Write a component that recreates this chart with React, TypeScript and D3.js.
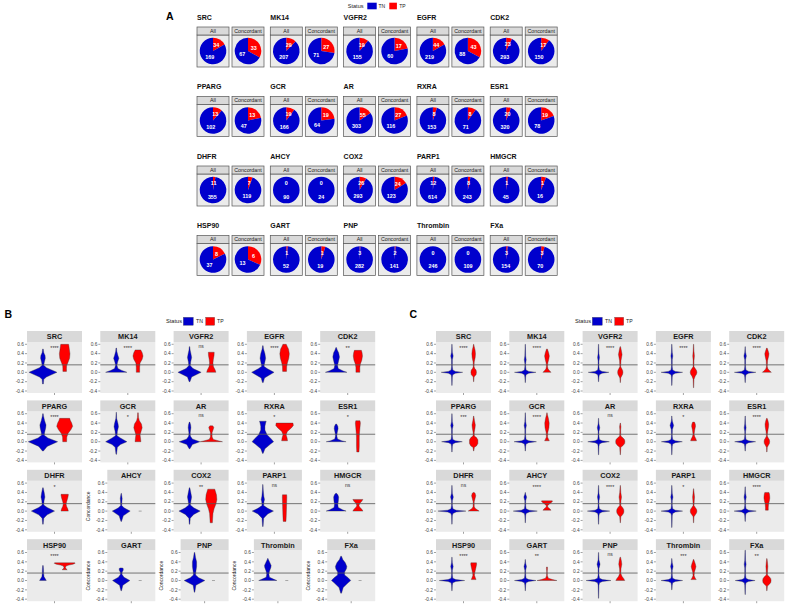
import React from "react";
import * as d3 from "d3";

// ---------- DATA ----------
const targets = ["SRC","MK14","VGFR2","EGFR","CDK2","PPARG","GCR","AR","RXRA","ESR1","DHFR","AHCY","COX2","PARP1","HMGCR","HSP90","GART","PNP","Thrombin","FXa"];
const allTP = [34,29,19,44,23,13,19,55,8,20,11,0,26,12,1,8,1,3,0,3];
const allTN = [169,207,155,219,293,102,166,303,153,320,355,90,293,614,45,37,52,282,246,154];
const concTP = [33,27,17,43,17,13,19,27,8,19,7,0,24,8,1,6,1,2,0,3];
const concTN = [67,71,60,88,150,47,64,116,71,78,119,24,123,243,16,13,19,141,109,70];

const sigB = ["****","****","ns","****","**","****","*","ns","*","*","*","","**","ns","ns","****","","","",""];
const sigC = ["****","****","****","****","****","***","****","ns","*","****","ns","****","****","*","****","****","**","ns","***","**"];

const yTicks = [0.6,0.4,0.2,0.0,-0.2,-0.4];
const refLine = 0.16;
const statusLevels = ["TN","TP"];

// violin knots: [concordance value, relative density width]
const violinB_TN: number[][][] = [
  [[-0.25,0.03],[-0.15,0.06],[-0.1,0.25],[0,1.0],[0.1,0.25],[0.15,0.06],[0.22,0.1],[0.3,0.17],[0.36,0.15],[0.42,0.06],[0.5,0.02]],
  [[0,0.76],[0.04,0.4],[0.08,0.12],[0.15,0.05],[0.22,0.1],[0.3,0.19],[0.36,0.12],[0.45,0.04],[0.52,0.02]],
  [[-0.2,0.03],[-0.1,0.15],[0,0.83],[0.08,0.25],[0.14,0.06],[0.22,0.08],[0.32,0.15],[0.4,0.1],[0.48,0.04],[0.55,0.02]],
  [[-0.22,0.03],[-0.12,0.12],[0,0.8],[0.08,0.3],[0.13,0.08],[0.2,0.13],[0.3,0.2],[0.4,0.15],[0.5,0.05],[0.57,0.02]],
  [[0,0.77],[0.03,0.5],[0.08,0.15],[0.15,0.1],[0.25,0.18],[0.33,0.24],[0.42,0.18],[0.48,0.08],[0.53,0.02]],
  [[-0.2,0.03],[-0.1,0.3],[0,1.05],[0.08,0.35],[0.14,0.1],[0.2,0.12],[0.3,0.2],[0.36,0.22],[0.45,0.12],[0.55,0.04],[0.6,0.02]],
  [[-0.27,0.02],[-0.12,0.08],[-0.06,0.3],[0,0.76],[0.08,0.3],[0.13,0.06],[0.22,0.08],[0.32,0.16],[0.38,0.13],[0.5,0.03],[0.63,0.01]],
  [[-0.15,0.03],[-0.06,0.2],[0,0.74],[0.06,0.2],[0.12,0.06],[0.2,0.05],[0.3,0.1],[0.36,0.08],[0.42,0.02]],
  [[-0.25,0.02],[-0.15,0.15],[-0.05,0.55],[0,0.77],[0.06,0.6],[0.15,0.3],[0.25,0.15],[0.33,0.15],[0.4,0.2],[0.44,0.24]],
  [[0,0.71],[0.02,0.4],[0.06,0.1],[0.12,0.05],[0.2,0.08],[0.28,0.14],[0.33,0.12],[0.38,0.03]],
  [[-0.28,0.02],[-0.15,0.06],[-0.08,0.3],[0,0.83],[0.08,0.3],[0.13,0.06],[0.22,0.08],[0.3,0.14],[0.38,0.1],[0.5,0.02]],
  [[-0.22,0.02],[-0.1,0.15],[0,0.64],[0.07,0.2],[0.12,0.04],[0.2,0.05],[0.27,0.07],[0.33,0.04],[0.38,0.01]],
  [[-0.28,0.02],[-0.15,0.05],[-0.07,0.3],[0,0.76],[0.07,0.3],[0.13,0.06],[0.22,0.1],[0.3,0.15],[0.38,0.1],[0.5,0.02]],
  [[-0.33,0.02],[-0.15,0.06],[-0.06,0.35],[0,0.76],[0.06,0.35],[0.12,0.06],[0.2,0.08],[0.25,0.12],[0.32,0.07],[0.45,0.03],[0.57,0.01]],
  [[0,0.71],[0.03,0.45],[0.08,0.15],[0.14,0.12],[0.22,0.16],[0.3,0.18],[0.35,0.12],[0.38,0.03]],
  [[0,0.24],[0.03,0.18],[0.08,0.08],[0.15,0.05],[0.25,0.04],[0.32,0.02]],
  [[-0.22,0.02],[-0.1,0.12],[0,0.62],[0.07,0.2],[0.13,0.06],[0.18,0.07],[0.22,0.14],[0.25,0.15],[0.27,0.1]],
  [[-0.25,0.02],[-0.1,0.1],[0,0.74],[0.06,0.3],[0.12,0.08],[0.2,0.1],[0.3,0.15],[0.4,0.15],[0.5,0.07],[0.6,0.02]],
  [[0,0.65],[0.03,0.4],[0.07,0.12],[0.13,0.08],[0.2,0.12],[0.28,0.22],[0.32,0.24],[0.38,0.15],[0.45,0.04],[0.47,0.02]],
  [[-0.27,0.03],[-0.15,0.15],[-0.05,0.5],[0,0.69],[0.06,0.5],[0.12,0.25],[0.18,0.25],[0.25,0.38],[0.3,0.41],[0.38,0.3],[0.45,0.12],[0.52,0.03]],
];

const violinB_TP: (number[][] | null)[] = [
  [[0.02,0.13],[0.08,0.13],[0.14,0.14],[0.2,0.22],[0.3,0.35],[0.4,0.38],[0.5,0.33],[0.57,0.3],[0.6,0.28]],
  [[0,0.12],[0.1,0.12],[0.2,0.15],[0.28,0.3],[0.35,0.36],[0.42,0.3],[0.48,0.2]],
  [[0,0.33],[0.05,0.28],[0.12,0.16],[0.2,0.12],[0.28,0.15],[0.36,0.2],[0.43,0.21]],
  [[0.02,0.14],[0.12,0.15],[0.2,0.2],[0.3,0.3],[0.4,0.34],[0.5,0.28],[0.56,0.18],[0.6,0.12]],
  [[0,0.14],[0.1,0.14],[0.18,0.18],[0.26,0.28],[0.35,0.33],[0.42,0.3],[0.47,0.25]],
  [[0,0.14],[0.1,0.15],[0.18,0.25],[0.26,0.45],[0.33,0.57],[0.4,0.5],[0.46,0.4],[0.5,0.36]],
  [[0,0.21],[0.08,0.18],[0.15,0.15],[0.22,0.22],[0.3,0.3],[0.38,0.25],[0.45,0.1],[0.52,0.04],[0.62,0.02]],
  [[0,0.8],[0.02,0.5],[0.05,0.15],[0.1,0.06],[0.2,0.06],[0.27,0.15],[0.31,0.18],[0.34,0.1]],
  [[0.02,0.21],[0.08,0.18],[0.15,0.11],[0.22,0.2],[0.3,0.5],[0.35,0.63],[0.4,0.6]],
  [[-0.22,0.08],[-0.1,0.1],[0,0.1],[0.1,0.1],[0.2,0.12],[0.3,0.15],[0.4,0.18],[0.45,0.15]],
  [[0,0.26],[0.05,0.22],[0.1,0.14],[0.15,0.1],[0.2,0.14],[0.28,0.22],[0.34,0.26],[0.36,0.26]],
  null,
  [[-0.25,0.08],[-0.15,0.1],[-0.05,0.12],[0.05,0.2],[0.15,0.33],[0.25,0.4],[0.35,0.37],[0.42,0.3],[0.47,0.25]],
  [[-0.22,0.1],[-0.1,0.12],[0,0.13],[0.1,0.14],[0.2,0.15],[0.3,0.16],[0.35,0.15]],
  [[0,0.36],[0.04,0.28],[0.09,0.12],[0.12,0.08],[0.16,0.12],[0.21,0.28],[0.25,0.36]],
  [[0.23,0.18],[0.25,0.1],[0.28,0.05],[0.31,0.1],[0.33,0.3],[0.35,0.6],[0.37,0.75],[0.38,0.72]],
  null, null, null, null,
];

const violinC_TN: number[][][] = [
  [[-0.28,0.01],[-0.1,0.03],[-0.05,0.06],[-0.02,0.25],[0,0.77],[0.02,0.25],[0.05,0.06],[0.12,0.03],[0.27,0.03],[0.35,0.09],[0.43,0.03],[0.55,0.015],[0.6,0.01]],
  [[-0.22,0.01],[-0.1,0.03],[-0.05,0.06],[-0.02,0.25],[0,0.77],[0.02,0.25],[0.05,0.06],[0.12,0.03],[0.19,0.03],[0.27,0.07],[0.35,0.03],[0.55,0.015],[0.6,0.01]],
  [[-0.2,0.01],[-0.1,0.03],[-0.05,0.06],[-0.02,0.25],[0,0.74],[0.02,0.25],[0.05,0.06],[0.12,0.03],[0.24,0.03],[0.32,0.07],[0.4,0.03],[0.55,0.015],[0.6,0.01]],
  [[-0.28,0.01],[-0.1,0.03],[-0.05,0.06],[-0.02,0.25],[0,0.77],[0.02,0.25],[0.05,0.06],[0.12,0.03],[0.27,0.03],[0.35,0.07],[0.43,0.03],[0.55,0.015],[0.6,0.01]],
  [[-0.22,0.01],[-0.1,0.03],[-0.05,0.06],[-0.02,0.25],[0,0.77],[0.02,0.25],[0.05,0.06],[0.12,0.03],[0.27,0.03],[0.35,0.09],[0.43,0.03],[0.5,0.015],[0.55,0.01]],
  [[-0.22,0.01],[-0.1,0.03],[-0.05,0.06],[-0.02,0.25],[0,0.74],[0.02,0.25],[0.05,0.06],[0.12,0.03],[0.27,0.03],[0.35,0.09],[0.43,0.03],[0.55,0.015],[0.6,0.01]],
  [[-0.2,0.01],[-0.1,0.03],[-0.05,0.06],[-0.02,0.25],[0,0.8],[0.02,0.25],[0.05,0.06],[0.12,0.03],[0.27,0.03],[0.35,0.08],[0.43,0.03],[0.57,0.015],[0.62,0.01]],
  [[-0.28,0.01],[-0.1,0.03],[-0.05,0.06],[-0.02,0.25],[0,0.77],[0.02,0.25],[0.05,0.06],[0.12,0.03],[0.22,0.03],[0.3,0.09],[0.38,0.03],[0.45,0.015],[0.5,0.01]],
  [[-0.28,0.01],[-0.1,0.03],[-0.05,0.06],[-0.02,0.25],[0,0.75],[0.02,0.25],[0.05,0.06],[0.12,0.03],[0.26,0.04],[0.35,0.13],[0.44,0.04],[0.5,0.015],[0.55,0.01]],
  [[-0.2,0.01],[-0.1,0.03],[-0.05,0.06],[-0.02,0.25],[0,0.75],[0.02,0.25],[0.05,0.06],[0.12,0.03],[0.22,0.03],[0.3,0.07],[0.38,0.03],[0.5,0.015],[0.55,0.01]],
  [[-0.28,0.01],[-0.1,0.03],[-0.05,0.07],[-0.02,0.3],[0,1.0],[0.02,0.3],[0.05,0.07],[0.12,0.03],[0.22,0.03],[0.3,0.1],[0.38,0.03],[0.5,0.015],[0.55,0.01]],
  [[-0.25,0.01],[-0.1,0.03],[-0.05,0.06],[-0.02,0.28],[0,0.86],[0.02,0.28],[0.05,0.06],[0.12,0.03],[0.22,0.03],[0.3,0.1],[0.36,0.03],[0.39,0.015],[0.4,0.01]],
  [[-0.28,0.01],[-0.1,0.03],[-0.05,0.06],[-0.02,0.25],[0,0.8],[0.02,0.25],[0.05,0.06],[0.12,0.03],[0.22,0.03],[0.3,0.08],[0.38,0.03],[0.5,0.015],[0.55,0.01]],
  [[-0.35,0.01],[-0.1,0.03],[-0.05,0.06],[-0.02,0.25],[0,0.77],[0.02,0.25],[0.05,0.06],[0.12,0.03],[0.22,0.03],[0.3,0.08],[0.38,0.03],[0.5,0.015],[0.55,0.01]],
  [[-0.22,0.01],[-0.1,0.03],[-0.05,0.06],[-0.02,0.25],[0,0.79],[0.02,0.25],[0.05,0.06],[0.12,0.03],[0.22,0.03],[0.3,0.08],[0.38,0.03],[0.47,0.015],[0.52,0.01]],
  [[-0.22,0.01],[-0.1,0.03],[-0.05,0.06],[-0.02,0.28],[0,0.91],[0.02,0.28],[0.05,0.06],[0.12,0.03],[0.22,0.03],[0.3,0.09],[0.38,0.03],[0.45,0.015],[0.5,0.01]],
  [[-0.22,0.01],[-0.1,0.03],[-0.05,0.06],[-0.02,0.25],[0,0.77],[0.02,0.25],[0.05,0.06],[0.12,0.03],[0.22,0.03],[0.3,0.09],[0.37,0.03],[0.42,0.015],[0.45,0.01]],
  [[-0.38,0.01],[-0.1,0.03],[-0.05,0.07],[-0.02,0.28],[0,0.89],[0.02,0.28],[0.05,0.07],[0.12,0.03],[0.26,0.03],[0.35,0.11],[0.44,0.03],[0.55,0.015],[0.6,0.01]],
  [[-0.2,0.01],[-0.1,0.03],[-0.05,0.06],[-0.02,0.25],[0,0.77],[0.02,0.25],[0.05,0.06],[0.12,0.03],[0.22,0.03],[0.3,0.09],[0.38,0.03],[0.44,0.015],[0.47,0.01]],
  [[-0.3,0.01],[-0.1,0.03],[-0.05,0.06],[-0.02,0.23],[0,0.71],[0.02,0.23],[0.05,0.06],[0.12,0.03],[0.27,0.03],[0.35,0.07],[0.43,0.03],[0.6,0.015],[0.65,0.01]],
];

const violinC_TP: number[][][] = [
  [[-0.2,0.01],[-0.1,0.03],[-0.08,0.08],[-0.05,0.17],[0,0.2],[0.05,0.17],[0.08,0.08],[0.12,0.03],[0.22,0.04],[0.32,0.11],[0.4,0.13],[0.48,0.1],[0.55,0.04],[0.6,0.01]],
  [[0,0.29],[0.03,0.2],[0.07,0.08],[0.12,0.04],[0.2,0.06],[0.28,0.13],[0.35,0.17],[0.42,0.12],[0.5,0.03]],
  [[-0.22,0.01],[-0.12,0.03],[-0.08,0.1],[-0.04,0.17],[0,0.19],[0.04,0.17],[0.08,0.1],[0.12,0.03],[0.25,0.05],[0.38,0.13],[0.48,0.07],[0.55,0.02]],
  [[-0.33,0.01],[-0.15,0.03],[-0.08,0.12],[-0.04,0.21],[0,0.24],[0.04,0.21],[0.08,0.12],[0.12,0.03],[0.25,0.03],[0.35,0.06],[0.45,0.03],[0.6,0.01]],
  [[0,0.32],[0.03,0.22],[0.07,0.08],[0.12,0.03],[0.25,0.05],[0.35,0.13],[0.4,0.15],[0.46,0.09],[0.52,0.02]],
  [[-0.2,0.01],[-0.12,0.05],[-0.09,0.2],[-0.04,0.3],[0,0.3],[0.04,0.3],[0.09,0.2],[0.12,0.05],[0.2,0.04],[0.3,0.1],[0.36,0.12],[0.45,0.06],[0.55,0.01]],
  [[0.02,0.17],[0.05,0.12],[0.1,0.04],[0.2,0.06],[0.3,0.14],[0.4,0.16],[0.5,0.1],[0.57,0.04],[0.62,0.01]],
  [[-0.28,0.01],[-0.12,0.04],[-0.08,0.2],[-0.04,0.31],[0,0.33],[0.04,0.31],[0.08,0.2],[0.12,0.04],[0.25,0.03],[0.32,0.05],[0.4,0.01]],
  [[0.02,0.21],[0.06,0.17],[0.11,0.08],[0.16,0.04],[0.25,0.08],[0.33,0.14],[0.38,0.12],[0.42,0.06]],
  [[-0.22,0.01],[-0.12,0.03],[-0.08,0.1],[-0.04,0.18],[0,0.2],[0.04,0.18],[0.08,0.1],[0.12,0.03],[0.22,0.06],[0.32,0.12],[0.38,0.13],[0.45,0.08],[0.5,0.02]],
  [[0,0.39],[0.03,0.25],[0.06,0.1],[0.1,0.04],[0.2,0.04],[0.27,0.1],[0.33,0.15],[0.38,0.1],[0.4,0.04]],
  [[0.02,0.29],[0.05,0.2],[0.09,0.05],[0.12,0.05],[0.16,0.2],[0.2,0.38],[0.22,0.38]],
  [[-0.25,0.01],[-0.12,0.04],[-0.08,0.16],[-0.04,0.24],[0,0.26],[0.04,0.24],[0.08,0.16],[0.12,0.04],[0.22,0.05],[0.3,0.09],[0.4,0.04],[0.55,0.01]],
  [[-0.25,0.01],[-0.12,0.03],[-0.08,0.12],[-0.04,0.21],[0,0.24],[0.04,0.21],[0.08,0.12],[0.12,0.03],[0.22,0.05],[0.3,0.07],[0.38,0.04],[0.48,0.01]],
  [[0.02,0.1],[0.08,0.1],[0.15,0.12],[0.22,0.18],[0.28,0.21],[0.33,0.2],[0.37,0.18],[0.4,0.15]],
  [[0.02,0.17],[0.06,0.12],[0.11,0.06],[0.15,0.07],[0.22,0.12],[0.3,0.18],[0.35,0.21],[0.38,0.2]],
  [[0,0.71],[0.02,0.4],[0.05,0.1],[0.1,0.03],[0.2,0.02],[0.26,0.04],[0.29,0.03]],
  [[0,0.32],[0.04,0.25],[0.09,0.12],[0.15,0.04],[0.25,0.05],[0.35,0.11],[0.42,0.08],[0.5,0.02]],
  [[0.02,0.19],[0.05,0.12],[0.1,0.04],[0.18,0.06],[0.26,0.14],[0.3,0.17],[0.36,0.12],[0.42,0.05],[0.45,0.02]],
  [[-0.22,0.01],[-0.12,0.04],[-0.08,0.18],[-0.04,0.28],[0,0.3],[0.04,0.28],[0.08,0.18],[0.12,0.04],[0.22,0.05],[0.3,0.07],[0.4,0.04],[0.47,0.01]],
];

// ---------- STYLE ----------
const BLUE = "#0000CD";
const RED = "#FF0000";
const FONT = "'Liberation Sans', Arial, Helvetica, sans-serif";
const colorScale = d3.scaleOrdinal<string, string>().domain(statusLevels).range([BLUE, RED]);

const COL_STEP = 73.3;
const ROW_STEP_A = 69.5;
const ROW_STEP_V = 69.4;

function PiePanel({ x, y, label, tp, tn }: { x: number; y: number; label: string; tp: number; tn: number }) {
  const R = 13.3;
  const pie = d3.pie<{ k: string; v: number }>().sort(null).value((d) => d.v);
  const arcs = pie([{ k: "TP", v: tp }, { k: "TN", v: tn }]);
  const arc = d3.arc<d3.PieArcDatum<{ k: string; v: number }>>().innerRadius(0).outerRadius(R);
  const cx = x + 16, cy = y + 24;
  return (
    <g>
      <rect x={x} y={y + 8} width={32} height={32} fill="#EBEBEB" stroke="#555" strokeWidth={0.7} />
      <rect x={x} y={y} width={32} height={8} fill="#D9D9D9" stroke="#555" strokeWidth={0.7} />
      <text x={cx} y={y + 5.9} fontSize={5.3} textAnchor="middle" fill="#1A1A1A">{label}</text>
      <g transform={`translate(${cx},${cy})`}>
        {arcs.map((a, i) => (
          <path key={i} d={arc(a) || ""} fill={colorScale(a.data.k)} />
        ))}
        {arcs.map((a, i) => {
          const [lx, ly] = arc.centroid(a);
          return (
            <text key={"t" + i} x={lx} y={ly + 1.9} fontSize={5.4} fontWeight="bold" fill="white" textAnchor="middle">
              {a.data.v}
            </text>
          );
        })}
      </g>
    </g>
  );
}

function Violin({ knots, cx, y, color }: { knots: number[][]; cx: number; y: d3.ScaleLinear<number, number>; color: string }) {
  const w = d3.scaleLinear().domain([0, 1]).range([0, 14]);
  const area = d3
    .area<number[]>()
    .y((d) => y(d[0]))
    .x0((d) => cx - w(d[1]))
    .x1((d) => cx + w(d[1]))
    .curve(d3.curveLinear);
  return <path d={area(knots) || ""} fill={color} stroke="#333" strokeWidth={0.35} strokeLinejoin="round" />;
}

function ViolinPanel({ x0, stripTop, name, tn, tp, sig }: { x0: number; stripTop: number; name: string; tn: number[][]; tp: number[][] | null; sig: string }) {
  const narrow = tp === null;
  const px = narrow ? x0 + 7 : x0;
  const w = narrow ? 48 : 55;
  const bodyTop = stripTop + 11;
  const bodyH = 51;
  const y = d3.scaleLinear().domain([-0.4, 0.6]).range([bodyTop + 49, bodyTop + 2.3]);
  const xPos = d3.scalePoint<string>().domain(statusLevels).range([px + w * 0.29, px + w * 0.685]);
  const isStar = sig.indexOf("*") >= 0;
  const sigY = y(0.55) + (isStar ? 3.1 : 1.4);
  return (
    <g>
      <rect x={px} y={bodyTop} width={w} height={bodyH} fill="#EBEBEB" />
      <rect x={px} y={stripTop} width={w} height={11} fill="#D9D9D9" />
      <text x={px + w / 2} y={stripTop + 8.4} fontSize={7.3} fontWeight="bold" textAnchor="middle" fill="#1A1A1A">{name}</text>
      {yTicks.map((t) => (
        <g key={t}>
          <text x={px - 3} y={y(t) + 1.7} fontSize={4.8} textAnchor="end" fill="#444">{t.toFixed(1)}</text>
          <line x1={px - 2} x2={px} y1={y(t)} y2={y(t)} stroke="#444" strokeWidth={0.5} />
        </g>
      ))}
      {narrow && (
        <text transform={`translate(${px - 17.5},${bodyTop + bodyH / 2}) rotate(-90)`} fontSize={5} textAnchor="middle" fill="#222">Concordance</text>
      )}
      <line x1={px + w / 2} x2={px + w / 2} y1={bodyTop + bodyH} y2={bodyTop + bodyH + 2} stroke="#444" strokeWidth={0.5} />
      <Violin knots={tn} cx={xPos("TN")!} y={y} color={colorScale("TN")} />
      {tp ? (
        <Violin knots={tp} cx={xPos("TP")!} y={y} color={colorScale("TP")} />
      ) : (
        <line x1={xPos("TP")! - 1.5} x2={xPos("TP")! + 1.5} y1={y(0)} y2={y(0)} stroke="#777" strokeWidth={0.6} />
      )}
      <line x1={px} x2={px + w} y1={y(refLine)} y2={y(refLine)} stroke="#555" strokeWidth={0.8} />
      {sig && (
        <text x={px + w / 2} y={sigY} fontSize={isStar ? 5.4 : 5} textAnchor="middle" fill="#333">{sig}</text>
      )}
    </g>
  );
}

function Legend({ x, y }: { x: number; y: number }) {
  return (
    <g>
      <text x={x} y={y + 6} fontSize={5.7} fill="#222">Status</text>
      <rect x={x + 17.3} y={y} width={10} height={8} fill={colorScale("TN")} stroke="#444" strokeWidth={0.3} />
      <text x={x + 30} y={y + 6} fontSize={5.2} fill="#222">TN</text>
      <rect x={x + 39.7} y={y} width={9} height={8} fill={colorScale("TP")} stroke="#444" strokeWidth={0.3} />
      <text x={x + 51} y={y + 6} fontSize={5.2} fill="#222">TP</text>
    </g>
  );
}

export default function App() {
  return (
    <svg width={785} height={605} style={{ position: "absolute", left: 0, top: 0, background: "white" }} fontFamily={FONT}>
      {/* Section A */}
      <text x={166} y={19.5} fontSize={10.5} fontWeight="bold" fill="#000">A</text>
      <g>
        <text x={347.7} y={8.3} fontSize={5.6} fill="#222">Status</text>
        <rect x={367.3} y={2.7} width={9.4} height={6.6} fill={BLUE} />
        <text x={378.5} y={8.3} fontSize={5} fill="#222">TN</text>
        <rect x={389.3} y={2.7} width={7.6} height={6.6} fill={RED} />
        <text x={399.3} y={8.3} fontSize={5} fill="#222">TP</text>
      </g>
      {targets.map((t, i) => {
        const c = i % 5, r = Math.floor(i / 5);
        const tx = 197 + c * COL_STEP;
        const ty = 17 + r * ROW_STEP_A;
        return (
          <g key={"a" + t}>
            <text x={tx} y={ty + 2.5} fontSize={7} fontWeight="bold" fill="#111">{t}</text>
            <PiePanel x={tx} y={ty + 10} label="All" tp={allTP[i]} tn={allTN[i]} />
            <PiePanel x={tx + 35} y={ty + 10} label="Concordant" tp={concTP[i]} tn={concTN[i]} />
          </g>
        );
      })}

      {/* Section B */}
      <text x={4.5} y={317.5} fontSize={10.5} fontWeight="bold" fill="#000">B</text>
      <Legend x={166} y={317.3} />
      {targets.map((t, i) => {
        const c = i % 5, r = Math.floor(i / 5);
        return (
          <ViolinPanel key={"b" + t} x0={27 + c * COL_STEP} stripTop={331 + r * ROW_STEP_V} name={t} tn={violinB_TN[i]} tp={violinB_TP[i]} sig={sigB[i]} />
        );
      })}

      {/* Section C */}
      <text x={409.5} y={317.5} fontSize={10.5} fontWeight="bold" fill="#000">C</text>
      <Legend x={575} y={317.3} />
      {targets.map((t, i) => {
        const c = i % 5, r = Math.floor(i / 5);
        return (
          <ViolinPanel key={"c" + t} x0={436 + c * COL_STEP} stripTop={331 + r * ROW_STEP_V} name={t} tn={violinC_TN[i]} tp={violinC_TP[i]} sig={sigC[i]} />
        );
      })}
    </svg>
  );
}
